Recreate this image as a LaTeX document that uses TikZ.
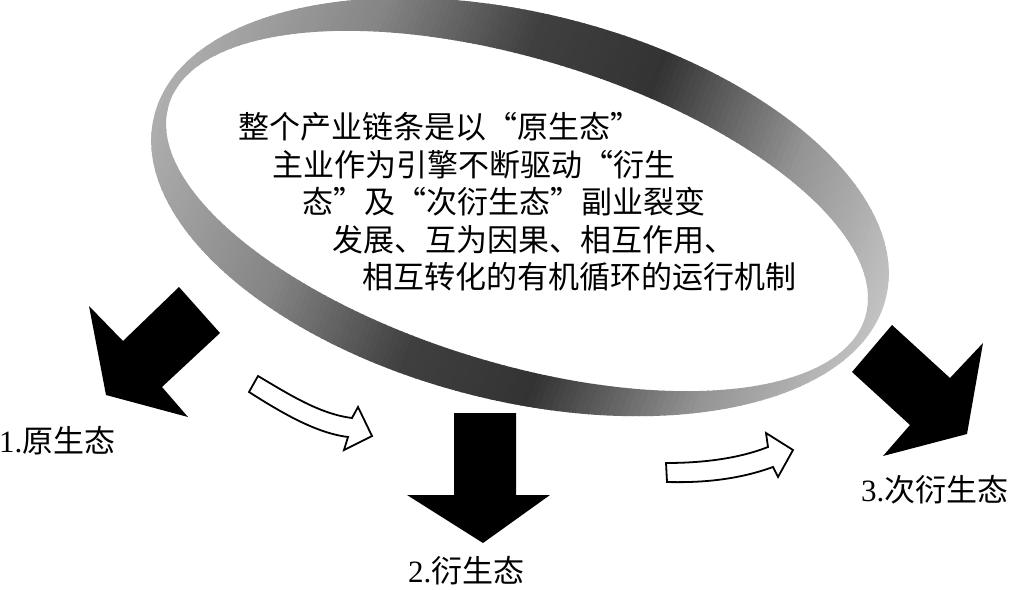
\documentclass[tikz,border=0pt]{standalone}
\usepackage{fontspec}
\setmainfont{Liberation Serif}
\newfontfamily\cjk{Noto Sans CJK SC}
\tikzset{
  bodytext/.style={anchor=west, inner sep=0pt, font=\cjk\fontsize{31}{37}\selectfont},
  lbltext/.style={anchor=west, inner sep=0pt, font=\fontsize{31}{37}\selectfont},
  blackarrow/.style={fill=black},
  hollowarrow/.style={draw=black, fill=white, line width=1.8pt, line join=miter},
}
\begin{document}
\begin{tikzpicture}[x=1pt,y=-1pt]
\useasboundingbox (0,0) rectangle (1012,589);
% shaded ring
\begin{scope}[even odd rule]
  \clip
    (520,207) ellipse [x radius=377, y radius=194, rotate=-14]
    (517,211) ellipse [x radius=364, y radius=152, rotate=-17];
  \foreach \p in {-390,-384,...,390}{
    \pgfmathsetmacro\k{(\p<-200)*(30+(\p+390)/190*18)
      + (\p>=-200)*(\p<-50)*(48+(\p+200)/150*27)
      + (\p>=-50)*(\p<80)*(75+(\p+50)/130*5)
      + (\p>=80)*(\p<240)*(80-(\p-80)/160*38)
      + (\p>=240)*(42-(\p-240)/150*20)}
    \fill[black!\k, shift={(520,207)}, rotate=-22] (\p-3.6,-520) rectangle (\p+3.6,520);
  }
\end{scope}
% central text
\node[bodytext] (t1) at (238,127) {整个产业链条是以“原生态”};
\node[bodytext] (t2) at (272,164.5) {主业作为引擎不断驱动“衍生};
\node[bodytext] (t3) at (302,202) {态”及“次衍生态”副业裂变};
\node[bodytext] (t4) at (332,239.5) {发展、互为因果、相互作用、};
\node[bodytext] (t5) at (362,277) {相互转化的有机循环的运行机制};
% black arrows
\fill[blackarrow] (89,306) -- (123,341) -- (179,287) -- (220,333) -- (162,387) -- (188,417) -- (106,395) -- cycle;
\fill[blackarrow] (454,413) -- (516,413) -- (516,495) -- (550,495) -- (483,543) -- (407,495) -- (454,495) -- cycle;
\fill[blackarrow] (892,325) -- (950,378) -- (983,343) -- (967,434) -- (883,456) -- (910,425) -- (852,372) -- cycle;
% hollow arrows
\draw[hollowarrow] (258,376) .. controls (290,395) and (320,414) .. (352,418) -- (358,407) -- (372,436) -- (344,450) -- (348,437) .. controls (316,433) and (282,413) .. (249,392) -- cycle;
\draw[hollowarrow] (666,463) .. controls (705,463) and (740,458) .. (768,447) -- (766,433) -- (793,450) -- (778,477) -- (773,467) .. controls (740,479) and (705,483) .. (667,482) -- cycle;
% labels
\node[lbltext] (n1) at (-1,441) {1.{\cjk 原生态}};
\node[lbltext] (n2) at (408,571) {2.{\cjk 衍生态}};
\node[lbltext] (n3) at (861,490) {3.{\cjk 次衍生态}};
\end{tikzpicture}
\end{document}
